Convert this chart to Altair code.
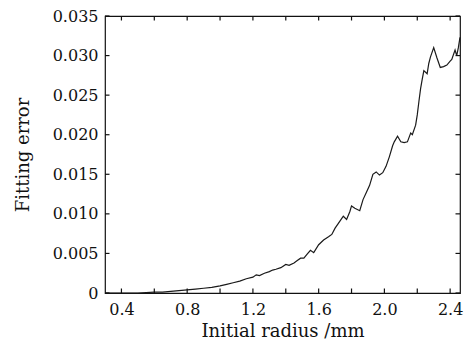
import altair as alt
import pandas as pd

radius = [0.30, 0.40, 0.50, 0.60, 0.65, 0.70, 0.75, 0.80, 0.85, 0.90, 0.95, 1.00,
          1.04, 1.08, 1.12, 1.16, 1.20, 1.22, 1.24, 1.27, 1.30, 1.32, 1.34, 1.37,
          1.40, 1.42, 1.45, 1.47, 1.49, 1.51, 1.53, 1.55, 1.57, 1.60, 1.63, 1.66,
          1.68, 1.70, 1.72, 1.75, 1.77, 1.79, 1.80, 1.82, 1.85, 1.87, 1.89, 1.91,
          1.93, 1.95, 1.97, 1.99, 2.01, 2.03, 2.05, 2.06, 2.08, 2.10, 2.12, 2.14,
          2.16, 2.17, 2.19, 2.20, 2.21, 2.22, 2.23, 2.24, 2.26, 2.27, 2.28, 2.30,
          2.32, 2.34, 2.36, 2.38, 2.40, 2.41, 2.43, 2.44, 2.45, 2.46]
error = [0.0000, 0.0000, 0.0000, 0.0001, 0.0001, 0.0002, 0.0003, 0.0004, 0.0005, 0.0006, 0.0007, 0.0009,
         0.0011, 0.0013, 0.0015, 0.0018, 0.0020, 0.0023, 0.0022, 0.0025, 0.0027, 0.0029, 0.0030, 0.0032,
         0.0036, 0.0035, 0.0038, 0.0041, 0.0044, 0.0044, 0.0049, 0.0054, 0.0051, 0.0061, 0.0067, 0.0071,
         0.0074, 0.0082, 0.0088, 0.0097, 0.0093, 0.0103, 0.0110, 0.0107, 0.0104, 0.0118, 0.0127, 0.0136,
         0.0150, 0.0153, 0.0149, 0.0152, 0.0160, 0.0172, 0.0186, 0.0191, 0.0198, 0.0191, 0.0190, 0.0191,
         0.0202, 0.0200, 0.0212, 0.0225, 0.0242, 0.0258, 0.0270, 0.0281, 0.0277, 0.0290, 0.0298, 0.0310,
         0.0297, 0.0285, 0.0286, 0.0288, 0.0293, 0.0295, 0.0307, 0.0300, 0.0310, 0.0323]

x_labels = [0.4, 0.8, 1.2, 1.6, 2.0, 2.4]
x_ticks = [0.4, 0.6, 0.8, 1.0, 1.2, 1.4, 1.6, 1.8, 2.0, 2.2, 2.4]
y_ticks = [0.0, 0.005, 0.010, 0.015, 0.020, 0.025, 0.030, 0.035]

X_MIN, X_MAX = 0.30, 2.46
Y_MIN, Y_MAX = 0.0, 0.035
W, H = 355, 277
FONT = "DejaVu Serif"

df = pd.DataFrame({"r": radius, "e": error})
xs = alt.Scale(domain=[X_MIN, X_MAX], nice=False, zero=False)
ys = alt.Scale(domain=[Y_MIN, Y_MAX], nice=False, zero=False)

x_axis = alt.Axis(title="Initial radius /mm", values=x_labels, format=".1f",
                  ticks=False, domain=False, grid=False, labelPadding=8,
                  labelOverlap=False, labelBound=False,
                  labelFont=FONT, labelFontSize=16, labelColor="#111",
                  titleFont=FONT, titleFontSize=18, titleFontWeight="normal",
                  titleColor="#111", titlePadding=5)
y_axis = alt.Axis(title="Fitting error", values=y_ticks,
                  labelExpr="datum.value == 0 ? '0' : format(datum.value, '.3f')",
                  ticks=False, domain=False, grid=False, labelPadding=7,
                  labelOverlap=False, labelBound=False,
                  labelFont=FONT, labelFontSize=16, labelColor="#111",
                  titleFont=FONT, titleFontSize=18, titleFontWeight="normal",
                  titleColor="#111", titlePadding=20)

line = alt.Chart(df).mark_line(color="#1a1a1a", strokeWidth=1.2).encode(
    x=alt.X("r:Q", scale=xs, axis=x_axis),
    y=alt.Y("e:Q", scale=ys, axis=y_axis),
)

tl = 4.5 / H * (Y_MAX - Y_MIN)   # tick length in data units (vertical)
tlx = 4.5 / W * (X_MAX - X_MIN)  # tick length in data units (horizontal)

rows = []
for t in x_ticks:
    rows.append({"x": t, "x2": t, "y": Y_MIN, "y2": Y_MIN + tl})
    rows.append({"x": t, "x2": t, "y": Y_MAX, "y2": Y_MAX - tl})
for t in y_ticks:
    rows.append({"x": X_MIN, "x2": X_MIN + tlx, "y": t, "y2": t})
    rows.append({"x": X_MAX, "x2": X_MAX - tlx, "y": t, "y2": t})
ticks_df = pd.DataFrame(rows)

ticks = alt.Chart(ticks_df).mark_rule(color="#111", strokeWidth=1.2).encode(
    x=alt.X("x:Q", scale=xs, axis=None), x2="x2:Q",
    y=alt.Y("y:Q", scale=ys, axis=None), y2="y2:Q")

chart = alt.layer(line, ticks).resolve_axis(x="independent", y="independent").properties(
    width=W, height=H,
    autosize=alt.AutoSizeParams(type="none"),
    padding={"left": 97, "top": 8, "right": 8, "bottom": 52},
    background="white",
).configure_view(stroke="#111", strokeWidth=1.2)

chart.save("out.html", embed_options={"renderer": "svg", "actions": False})
